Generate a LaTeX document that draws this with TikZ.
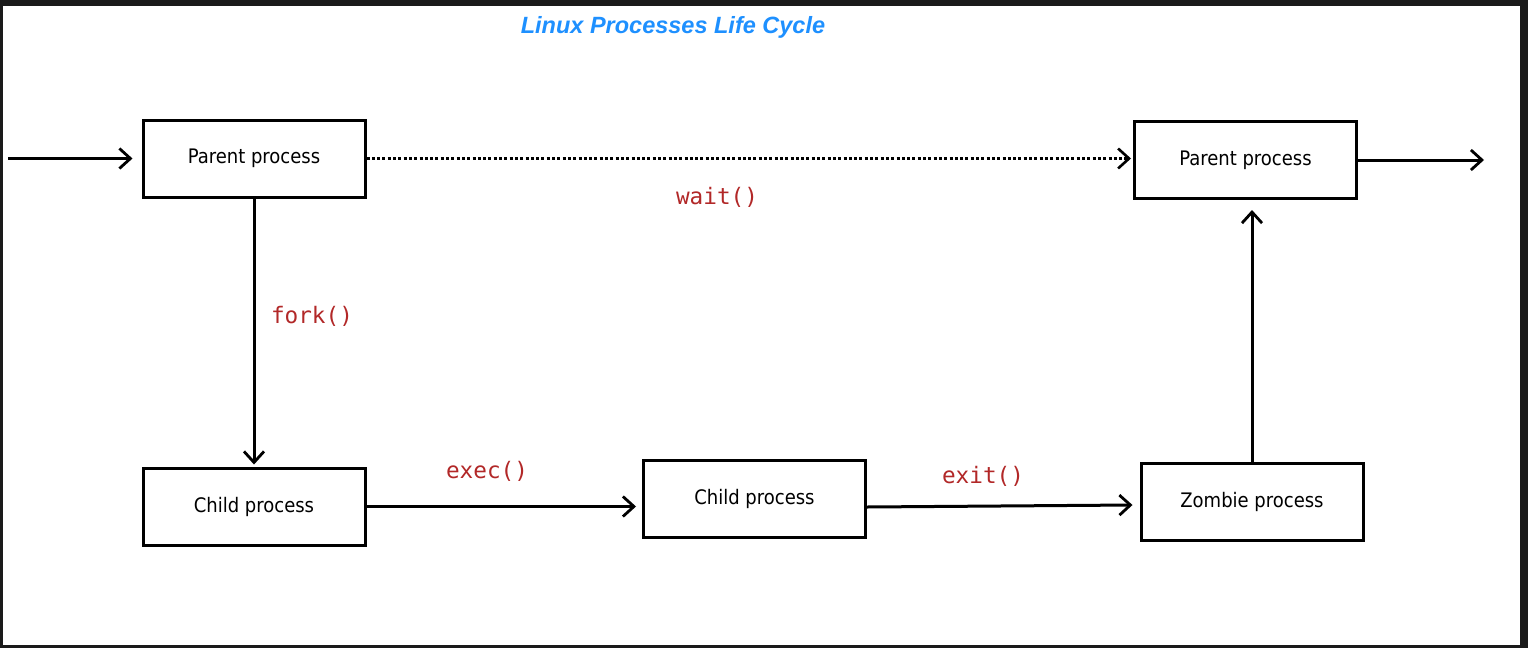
\documentclass[tikz,border=0pt]{standalone}
\usepackage{fontspec}
\setmainfont{DejaVu Sans}
\newfontfamily\boxfont{DejaVu Sans Condensed}
\newfontfamily\codefont{DejaVu Sans Mono}
\newfontfamily\titlefont{Liberation Sans}
\usetikzlibrary{arrows.meta}
\definecolor{codered}{RGB}{178,40,40}
\definecolor{titleblue}{RGB}{30,144,255}
\definecolor{frame}{RGB}{26,26,26}
\tikzset{
  procbox/.style={draw=black, line width=3pt, fill=white, minimum width=222pt, minimum height=77pt, inner sep=0pt, font=\boxfont\fontsize{20}{24}\selectfont},
  conn/.style={line width=3pt, -{Straight Barb[length=11pt,width=20pt,line width=2.8pt]}},
  dotconn/.style={line width=2.8pt, dash pattern=on 3pt off 2.3pt, -{Straight Barb[length=11pt,width=20pt,line width=2.6pt]}},
  codelbl/.style={text=codered, font=\codefont\fontsize{22.7}{26}\selectfont, inner sep=0pt},
}
\begin{document}
\begin{tikzpicture}[x=1pt,y=-1pt]
\fill[frame] (0,0) rectangle (1528,648);
\fill[white] (3,6) rectangle (1520,645);
\useasboundingbox (0,0) rectangle (1528,648);

\node[text=titleblue, font=\titlefont\bfseries\itshape\fontsize{23.5}{28}\selectfont, inner sep=0pt] (title) at (673,27) {Linux Processes Life Cycle};

\node[procbox] (p1) at (254,158.5) {Parent process};
\node[procbox] (p2) at (1245.5,160) {Parent process};
\node[procbox] (c1) at (254,506.5) {Child process};
\node[procbox] (c2) at (754.5,498.5) {Child process};
\node[procbox] (z) at (1252,501.5) {Zombie process};

\coordinate (in) at (8,158.5);
\coordinate (out) at (1484,160);

\draw[conn] (in) -- ([xshift=-9pt]p1.west);
\draw[dotconn] (p1.east) -- ([xshift=-2pt]p2.west |- p1.east);
\draw[conn] (p2.east) -- (out);
\draw[conn] (p1.south) -- ([yshift=2pt]c1.north);
\draw[conn] (c1.east) -- ([xshift=-6pt]c2.west |- c1.east);
\draw[conn] (c2.east |- 0,507) -- ([xshift=-7pt]z.west |- 0,505);
\draw[conn] (z.north) -- ([yshift=-10pt]z.north |- p2.south);

\node[codelbl] (lwait) at (717,197) {wait()};
\node[codelbl] (lfork) at (312,316) {fork()};
\node[codelbl] (lexec) at (487,471) {exec()};
\node[codelbl] (lexit) at (983,476) {exit()};
\end{tikzpicture}
\end{document}
